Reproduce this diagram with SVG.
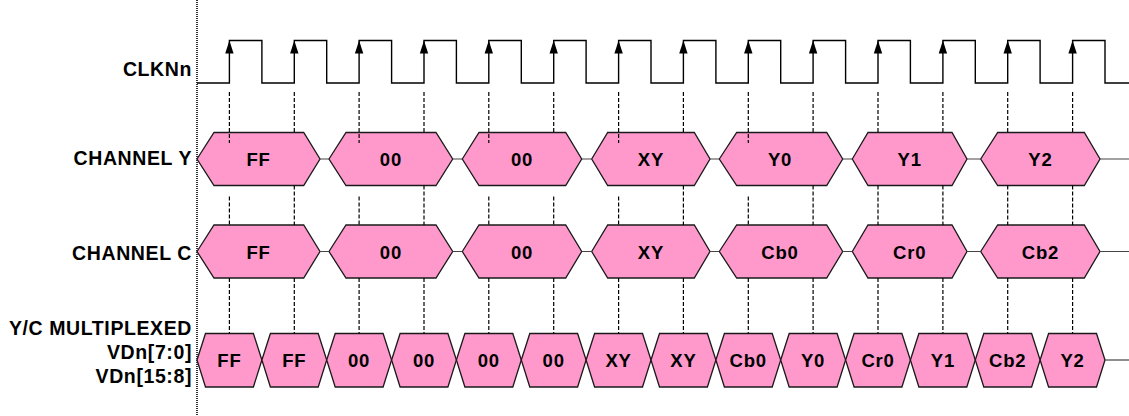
<svg xmlns="http://www.w3.org/2000/svg" xmlns:xlink="http://www.w3.org/1999/xlink" width="1129" height="416" viewBox="0 0 1129 416">
<style>
.lbl{font-family:"Liberation Sans",Arial,sans-serif;font-weight:bold;font-size:19.5px;letter-spacing:0.6px;fill:#000;text-anchor:end}
.hx{fill:#FF99CC;stroke:#1a1a1a;stroke-width:1.3;stroke-linejoin:miter}
.ht{font-family:"Liberation Sans",Arial,sans-serif;font-weight:bold;font-size:18.5px;letter-spacing:0.8px;fill:#000;text-anchor:middle}
.dash{stroke:#000;stroke-width:1.2;stroke-dasharray:4 2;fill:none}
.mid{stroke:#444;stroke-width:1.2;fill:none}
.clk{stroke:#000;stroke-width:1.4;fill:none}
</style>
<defs>
<path id="arr" d="M0,0 L-4.2,13 L4.2,13 Z" fill="#000"/>
</defs>
<rect width="1129" height="416" fill="#fff"/>
<line x1="197" y1="0" x2="197" y2="416" stroke="#000" stroke-width="1.6" stroke-dasharray="1 1"/>

<g id="labels">
<text class="lbl" x="192" y="76">CLKNn</text>
<text class="lbl" x="192" y="165">CHANNEL Y</text>
<text class="lbl" x="192" y="260">CHANNEL C</text>
<text class="lbl" x="192" y="335">Y/C MULTIPLEXED</text>
<text class="lbl" x="192" y="359">VDn[7:0]</text>
<text class="lbl" x="192" y="383">VDn[15:8]</text>
</g>

<g id="clock">
<path class="clk" d="M197,83 H229.4 V40.5 H261.9 V83 H294.3 V40.5 H326.7 V83 H359.1 V40.5 H391.6 V83 H424 V40.5 H456.4 V83 H488.8 V40.5 H521.3 V83 H553.7 V40.5 H586.1 V83 H618.6 V40.5 H651 V83 H683.4 V40.5 H715.9 V83 H748.3 V40.5 H780.7 V83 H813.1 V40.5 H845.6 V83 H878 V40.5 H910.4 V83 H942.9 V40.5 H975.3 V83 H1007.7 V40.5 H1040.1 V83 H1072.6 V40.5 H1105 V83 H1129"/>
<use xlink:href="#arr" x="229.4" y="40.5"/>
<use xlink:href="#arr" x="294.3" y="40.5"/>
<use xlink:href="#arr" x="359.1" y="40.5"/>
<use xlink:href="#arr" x="424" y="40.5"/>
<use xlink:href="#arr" x="488.8" y="40.5"/>
<use xlink:href="#arr" x="553.7" y="40.5"/>
<use xlink:href="#arr" x="618.6" y="40.5"/>
<use xlink:href="#arr" x="683.4" y="40.5"/>
<use xlink:href="#arr" x="748.3" y="40.5"/>
<use xlink:href="#arr" x="813.1" y="40.5"/>
<use xlink:href="#arr" x="878" y="40.5"/>
<use xlink:href="#arr" x="942.9" y="40.5"/>
<use xlink:href="#arr" x="1007.7" y="40.5"/>
<use xlink:href="#arr" x="1072.6" y="40.5"/>
</g>

<g id="chY">
<g id="y1"><polygon class="hx" points="197,159 214,132.5 303.7,132.5 320,159 303.7,185.5 214,185.5"/><text class="ht" x="258.5" y="166">FF</text></g>
<g id="y2"><polygon class="hx" points="329,159 346,132.5 436,132.5 452.7,159 436,185.5 346,185.5"/><text class="ht" x="390.9" y="166">00</text></g>
<g id="y3"><polygon class="hx" points="462.3,159 479,132.5 565.7,132.5 581.7,159 565.7,185.5 479,185.5"/><text class="ht" x="522" y="166">00</text></g>
<g id="y4"><polygon class="hx" points="591.7,159 607.7,132.5 694.3,132.5 710,159 694.3,185.5 607.7,185.5"/><text class="ht" x="650.9" y="166">XY</text></g>
<g id="y5"><polygon class="hx" points="719.3,159 736.7,132.5 826.7,132.5 842.7,159 826.7,185.5 736.7,185.5"/><text class="ht" x="780" y="166">Y0</text></g>
<g id="y6"><polygon class="hx" points="852.3,159 868,132.5 952,132.5 967,159 952,185.5 868,185.5"/><text class="ht" x="909.7" y="166">Y1</text></g>
<g id="y7"><polygon class="hx" points="980.7,159 997.7,132.5 1084.3,132.5 1100,159 1084.3,185.5 997.7,185.5"/><text class="ht" x="1040.4" y="166">Y2</text></g>
</g>

<g id="chC">
<g id="c1"><polygon class="hx" points="197,251.5 214,225 303.7,225 320,251.5 303.7,278 214,278"/><text class="ht" x="258.5" y="258.5">FF</text></g>
<g id="c2"><polygon class="hx" points="329,251.5 346,225 436,225 452.7,251.5 436,278 346,278"/><text class="ht" x="390.9" y="258.5">00</text></g>
<g id="c3"><polygon class="hx" points="462.3,251.5 479,225 565.7,225 581.7,251.5 565.7,278 479,278"/><text class="ht" x="522" y="258.5">00</text></g>
<g id="c4"><polygon class="hx" points="591.7,251.5 607.7,225 694.3,225 710,251.5 694.3,278 607.7,278"/><text class="ht" x="650.9" y="258.5">XY</text></g>
<g id="c5"><polygon class="hx" points="719.3,251.5 736.7,225 826.7,225 842.7,251.5 826.7,278 736.7,278"/><text class="ht" x="780" y="258.5">Cb0</text></g>
<g id="c6"><polygon class="hx" points="852.3,251.5 868,225 952,225 967,251.5 952,278 868,278"/><text class="ht" x="909.7" y="258.5">Cr0</text></g>
<g id="c7"><polygon class="hx" points="980.7,251.5 997.7,225 1084.3,225 1100,251.5 1084.3,278 997.7,278"/><text class="ht" x="1040.4" y="258.5">Cb2</text></g>
</g>

<g id="mux">
<g id="m1"><polygon class="hx" points="197,360 205.5,333.5 253.4,333.5 261.9,360 253.4,387 205.5,387"/><text class="ht" x="229.4" y="367">FF</text></g>
<g id="m2"><polygon class="hx" points="261.9,360 270.4,333.5 318.2,333.5 326.7,360 318.2,387 270.4,387"/><text class="ht" x="294.3" y="367">FF</text></g>
<g id="m3"><polygon class="hx" points="326.7,360 335.2,333.5 383.1,333.5 391.6,360 383.1,387 335.2,387"/><text class="ht" x="359.1" y="367">00</text></g>
<g id="m4"><polygon class="hx" points="391.6,360 400.1,333.5 447.9,333.5 456.4,360 447.9,387 400.1,387"/><text class="ht" x="424" y="367">00</text></g>
<g id="m5"><polygon class="hx" points="456.4,360 464.9,333.5 512.8,333.5 521.3,360 512.8,387 464.9,387"/><text class="ht" x="488.8" y="367">00</text></g>
<g id="m6"><polygon class="hx" points="521.3,360 529.8,333.5 577.6,333.5 586.1,360 577.6,387 529.8,387"/><text class="ht" x="553.7" y="367">00</text></g>
<g id="m7"><polygon class="hx" points="586.1,360 594.6,333.5 642.5,333.5 651,360 642.5,387 594.6,387"/><text class="ht" x="618.6" y="367">XY</text></g>
<g id="m8"><polygon class="hx" points="651,360 659.5,333.5 707.4,333.5 715.9,360 707.4,387 659.5,387"/><text class="ht" x="683.4" y="367">XY</text></g>
<g id="m9"><polygon class="hx" points="715.9,360 724.4,333.5 772.2,333.5 780.7,360 772.2,387 724.4,387"/><text class="ht" x="748.3" y="367">Cb0</text></g>
<g id="m10"><polygon class="hx" points="780.7,360 789.2,333.5 837.1,333.5 845.6,360 837.1,387 789.2,387"/><text class="ht" x="813.1" y="367">Y0</text></g>
<g id="m11"><polygon class="hx" points="845.6,360 854.1,333.5 901.9,333.5 910.4,360 901.9,387 854.1,387"/><text class="ht" x="878" y="367">Cr0</text></g>
<g id="m12"><polygon class="hx" points="910.4,360 918.9,333.5 966.8,333.5 975.3,360 966.8,387 918.9,387"/><text class="ht" x="942.9" y="367">Y1</text></g>
<g id="m13"><polygon class="hx" points="975.3,360 983.8,333.5 1031.6,333.5 1040.1,360 1031.6,387 983.8,387"/><text class="ht" x="1007.7" y="367">Cb2</text></g>
<g id="m14"><polygon class="hx" points="1040.1,360 1048.6,333.5 1096.5,333.5 1105,360 1096.5,387 1048.6,387"/><text class="ht" x="1072.6" y="367">Y2</text></g>
</g>

<g id="connectors">
<path class="mid" d="M320,159 H329 M452.7,159 H462.3 M581.7,159 H591.7 M710,159 H719.3 M842.7,159 H852.3 M967,159 H980.7 M1100,159 H1129"/>
<path class="mid" d="M320,251.5 H329 M452.7,251.5 H462.3 M581.7,251.5 H591.7 M710,251.5 H719.3 M842.7,251.5 H852.3 M967,251.5 H980.7 M1100,251.5 H1129"/>
<path class="mid" d="M1105,360 H1129"/>
<path class="dash" d="M229.4,92 V143 M229.4,196.5 V225 M229.4,278 V333.5"/>
<path class="dash" d="M294.3,92 V132.5 M294.3,185.5 V225 M294.3,278 V333.5"/>
<path class="dash" d="M359.1,92 V143 M359.1,196.5 V225 M359.1,278 V333.5"/>
<path class="dash" d="M424,92 V132.5 M424,185.5 V225 M424,278 V333.5"/>
<path class="dash" d="M488.8,92 V143 M488.8,196.5 V225 M488.8,278 V333.5"/>
<path class="dash" d="M553.7,92 V132.5 M553.7,196.5 V225 M553.7,278 V333.5"/>
<path class="dash" d="M618.6,92 V143 M618.6,196.5 V225 M618.6,278 V333.5"/>
<path class="dash" d="M683.4,92 V132.5 M683.4,185.5 V225 M683.4,278 V333.5"/>
<path class="dash" d="M748.3,92 V143 M748.3,196.5 V225 M748.3,278 V333.5"/>
<path class="dash" d="M813.1,92 V132.5 M813.1,185.5 V225 M813.1,278 V333.5"/>
<path class="dash" d="M878,92 V132.5 M878,185.5 V225 M878,278 V333.5"/>
<path class="dash" d="M942.9,92 V132.5 M942.9,185.5 V225 M942.9,278 V333.5"/>
<path class="dash" d="M1007.7,92 V132.5 M1007.7,185.5 V225 M1007.7,278 V333.5"/>
<path class="dash" d="M1072.6,92 V132.5 M1072.6,185.5 V225 M1072.6,278 V333.5"/>
</g>
</svg>
